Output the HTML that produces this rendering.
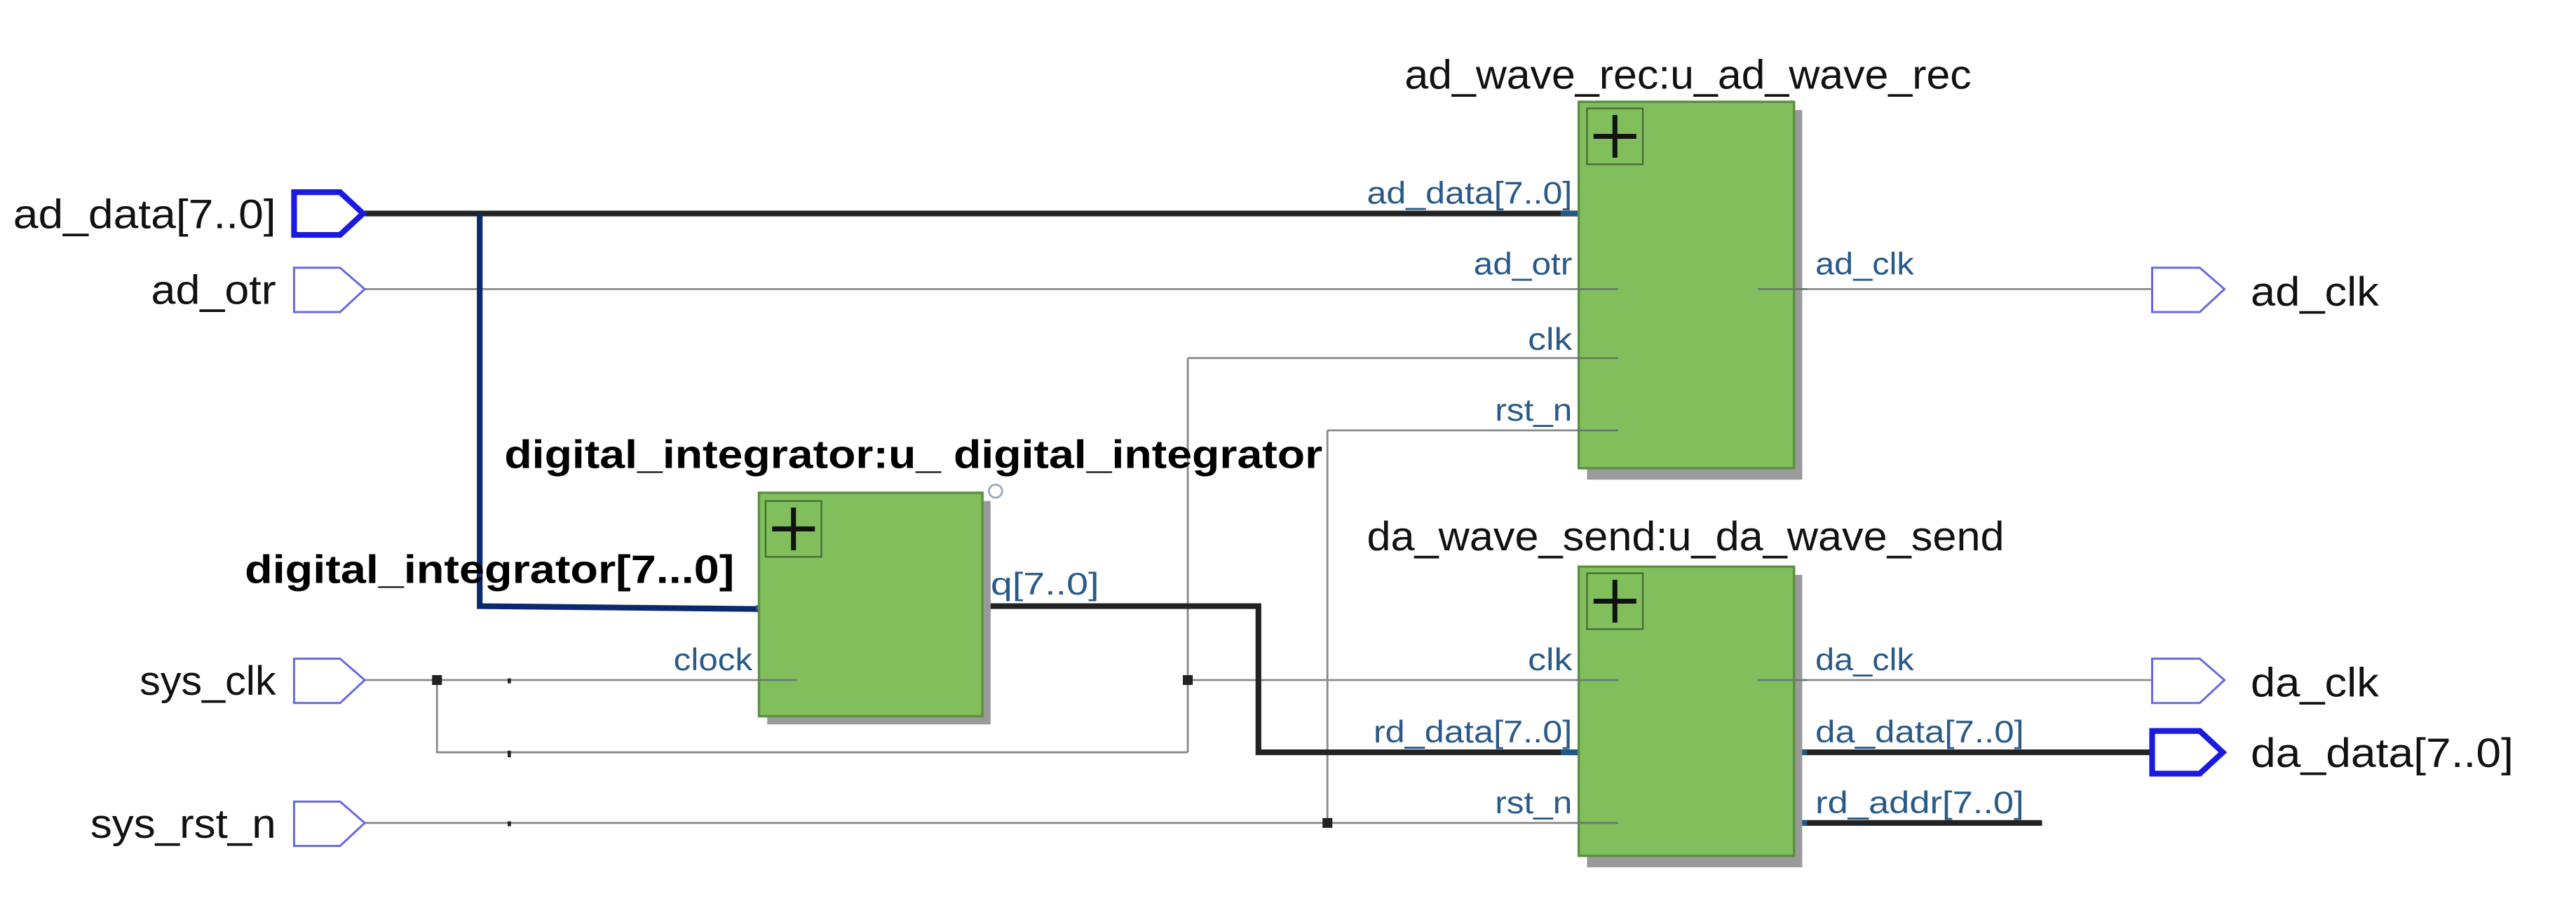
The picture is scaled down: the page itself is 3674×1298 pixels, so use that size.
<!DOCTYPE html>
<html><head><meta charset="utf-8">
<style>
html,body{margin:0;padding:0;background:#fff;}
svg{display:block;}
text{font-family:"Liberation Sans",sans-serif;}
.pin{font-size:19px;fill:#2a5a88;}
.ttl{font-size:25px;fill:#111;}
.io{font-size:25px;fill:#111;}
.bold{font-size:24px;font-weight:bold;fill:#000;}
</style></head>
<body>
<svg width="3674" height="1298" viewBox="0 0 1568 554" preserveAspectRatio="none" xmlns="http://www.w3.org/2000/svg">
<rect width="1568" height="554" fill="#fff"/>
<g stroke="#8a8a8a" stroke-width="1.2" fill="none">
<path d="M222 176 H985"/>
<path d="M723 218 H985 M723 218 V458"/>
<path d="M808 262 H985 M808 262 V501"/>
<path d="M222 414 H485"/>
<path d="M266 414 V458 H723"/>
<path d="M723 414 H985"/>
<path d="M222 501 H985"/>
<path d="M1070 176 H1310"/>
<path d="M1070 414 H1310"/>
</g>
<g stroke="#222" stroke-width="3.5" fill="none">
<path d="M222 130 H982"/>
<path d="M570 369 H766 V458 H985"/>
<path d="M1070 458 H1310"/>
<path d="M1070 501 H1243"/>
</g>
<path d="M292 130 V369 L483 371" stroke="#0b2a6e" stroke-width="3.5" fill="none"/>
<g stroke="#1d5a8a" stroke-width="3">
<path d="M950 130 H982"/><path d="M950 458 H985"/><path d="M1070 458 H1100"/><path d="M1070 501 H1100"/><path d="M570 369 H600"/><path d="M460 370 H483"/>
</g>
<g fill="#222">
<rect x="263" y="411" width="6" height="6"/><rect x="720" y="411" width="6" height="6"/><rect x="805" y="498" width="6" height="6"/>
<rect x="309" y="413" width="2" height="3"/><rect x="309" y="457" width="2" height="4"/><rect x="309" y="500" width="2" height="3"/>
</g>
<circle cx="606" cy="299" r="4" fill="none" stroke="#9ab" stroke-width="1.2"/>
<g>
<rect x="467" y="305" width="136" height="136" fill="#9a9a9a"/>
<rect x="462" y="300" width="136" height="136" fill="#80bf5c" stroke="#5d8f45" stroke-width="1.5"/>
<rect x="466" y="305" width="34" height="34" fill="none" stroke="#4a6a3a" stroke-width="1"/>
<path d="M483 309 V335 M470 322 H496" stroke="#111" stroke-width="3"/>
<rect x="966" y="67" width="131" height="225" fill="#9a9a9a"/>
<rect x="961" y="62" width="131" height="223" fill="#80bf5c" stroke="#5d8f45" stroke-width="1.5"/>
<rect x="966" y="66" width="34" height="34" fill="none" stroke="#4a6a3a" stroke-width="1"/>
<path d="M983 70 V96 M970 83 H996" stroke="#111" stroke-width="3"/>
<rect x="966" y="350" width="131" height="178" fill="#9a9a9a"/>
<rect x="961" y="345" width="131" height="176" fill="#80bf5c" stroke="#5d8f45" stroke-width="1.5"/>
<rect x="966" y="349" width="34" height="34" fill="none" stroke="#4a6a3a" stroke-width="1"/>
<path d="M983 353 V379 M970 366 H996" stroke="#111" stroke-width="3"/>
</g>
<g stroke="#6a7a70" stroke-width="1.2">
<path d="M960 176 H985 M960 218 H985 M960 262 H985 M960 414 H985 M960 501 H985 M1070 176 H1100 M1070 414 H1100 M462 414 H485"/>
</g>
<g fill="#fff" stroke="#6a6ae0" stroke-width="1.3">
<path d="M179 163 H207 L222 176 L207 190 H179 Z"/>
<path d="M179 401 H207 L222 414 L207 428 H179 Z"/>
<path d="M179 488 H207 L222 501 L207 515 H179 Z"/>
<path d="M1310 163 H1339 L1354 176 L1339 190 H1310 Z"/>
<path d="M1310 401 H1339 L1354 414 L1339 428 H1310 Z"/>
</g>
<g fill="#fff" stroke="#1a1ae0" stroke-width="3.5">
<path d="M179 117 H207 L221 130 L207 143 H179 Z"/>
<path d="M1310 445 H1339 L1353 458 L1339 471 H1310 Z"/>
</g>
<g class="io" lengthAdjust="spacingAndGlyphs">
<text x="8" y="139" textLength="160" lengthAdjust="spacingAndGlyphs">ad_data[7..0]</text>
<text x="92" y="185" textLength="76" lengthAdjust="spacingAndGlyphs">ad_otr</text>
<text x="85" y="423" textLength="83" lengthAdjust="spacingAndGlyphs">sys_clk</text>
<text x="55" y="510" textLength="113" lengthAdjust="spacingAndGlyphs">sys_rst_n</text>
<text x="1370" y="186" textLength="78" lengthAdjust="spacingAndGlyphs">ad_clk</text>
<text x="1370" y="424" textLength="78" lengthAdjust="spacingAndGlyphs">da_clk</text>
<text x="1370" y="467" textLength="160" lengthAdjust="spacingAndGlyphs">da_data[7..0]</text>
</g>
<text class="ttl" x="855" y="54" textLength="345" lengthAdjust="spacingAndGlyphs">ad_wave_rec:u_ad_wave_rec</text>
<text class="ttl" x="832" y="335" textLength="388" lengthAdjust="spacingAndGlyphs">da_wave_send:u_da_wave_send</text>
<text class="bold" x="307" y="285" textLength="498" lengthAdjust="spacingAndGlyphs">digital_integrator:u_ digital_integrator</text>
<text class="bold" x="149" y="355" textLength="298" lengthAdjust="spacingAndGlyphs">digital_integrator[7...0]</text>
<g class="pin">
<text x="832" y="124" textLength="125" lengthAdjust="spacingAndGlyphs">ad_data[7..0]</text>
<text x="897" y="167" textLength="60" lengthAdjust="spacingAndGlyphs">ad_otr</text>
<text x="930" y="213" textLength="27" lengthAdjust="spacingAndGlyphs">clk</text>
<text x="910" y="256" textLength="47" lengthAdjust="spacingAndGlyphs">rst_n</text>
<text x="1105" y="167" textLength="60" lengthAdjust="spacingAndGlyphs">ad_clk</text>
<text x="930" y="408" textLength="27" lengthAdjust="spacingAndGlyphs">clk</text>
<text x="836" y="452" textLength="121" lengthAdjust="spacingAndGlyphs">rd_data[7..0]</text>
<text x="910" y="495" textLength="47" lengthAdjust="spacingAndGlyphs">rst_n</text>
<text x="1105" y="408" textLength="60" lengthAdjust="spacingAndGlyphs">da_clk</text>
<text x="1105" y="452" textLength="127" lengthAdjust="spacingAndGlyphs">da_data[7..0]</text>
<text x="1105" y="495" textLength="127" lengthAdjust="spacingAndGlyphs">rd_addr[7..0]</text>
<text x="410" y="408" textLength="48" lengthAdjust="spacingAndGlyphs">clock</text>
<text x="603" y="362" textLength="66" lengthAdjust="spacingAndGlyphs">q[7..0]</text>
</g>
</svg>
</body></html>
